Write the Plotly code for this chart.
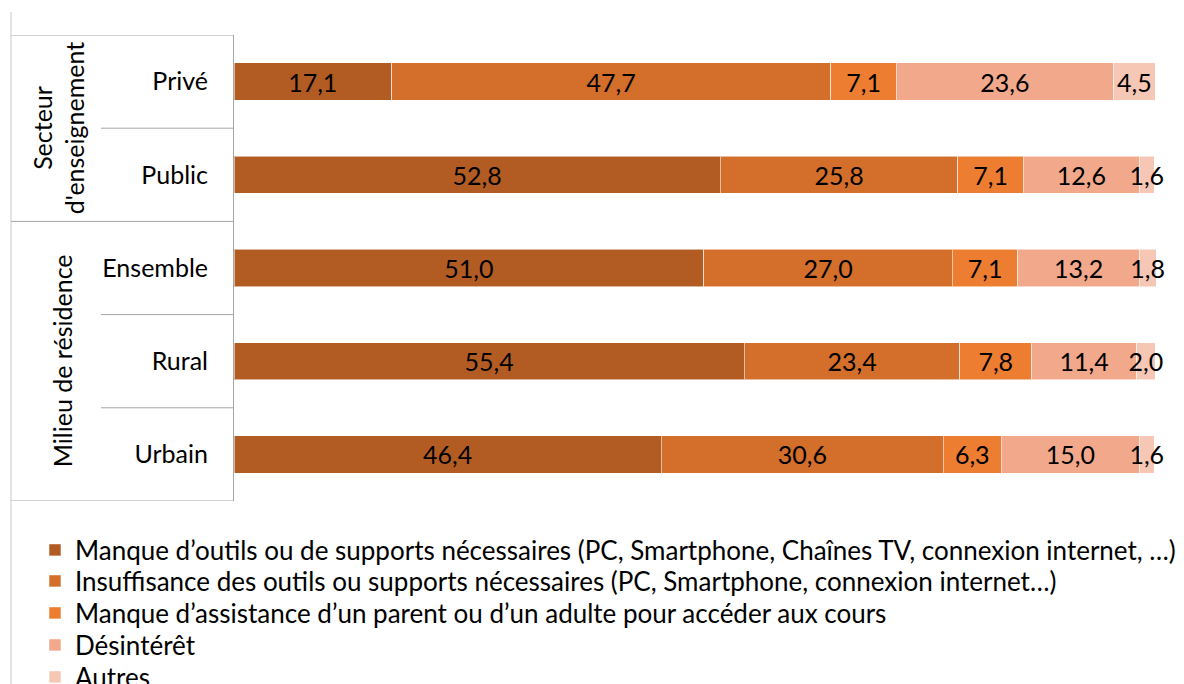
import plotly.graph_objects as go

categories = ["Privé", "Public", "Ensemble", "Rural", "Urbain"]
series_names = [
    "Manque d’outils ou de supports nécessaires (PC, Smartphone, Chaînes TV, connexion internet, …)",
    "Insuffisance des outils ou supports nécessaires (PC, Smartphone, connexion internet…)",
    "Manque d’assistance d’un parent ou d’un adulte pour accéder aux cours",
    "Désintérêt",
    "Autres",
]
manque_outils = [17.1, 52.8, 51.0, 55.4, 46.4]
insuffisance = [47.7, 25.8, 27.0, 23.4, 30.6]
manque_assistance = [7.1, 7.1, 7.1, 7.8, 6.3]
desinteret = [23.6, 12.6, 13.2, 11.4, 15.0]
autres = [4.5, 1.6, 1.8, 2.0, 1.6]
series_values = [manque_outils, insuffisance, manque_assistance, desinteret, autres]
colors = ["#B25C23", "#D36E2B", "#ED7D31", "#F1A88B", "#F6C7B5"]
group_labels = ["Secteur<br>d'enseignement", "Milieu de résidence"]

FONT = "Lato"
FS = 25
FS_LEG = 26
W, H = 1184, 684
L, R, T, B = 234, 28, 35, 183
PW, PH = W - L - R, H - T - B


def px_x(p):
    return (p - L) / PW


def px_y(p):
    return (H - B - p) / PH


legend_ids = ["legend", "legend2", "legend3", "legend4", "legend5"]
legend_centers = [550, 581, 613, 645, 677]

fig = go.Figure()
for name, vals, col, lid in zip(series_names, series_values, colors, legend_ids):
    fig.add_trace(go.Bar(
        y=categories, x=vals, name=name, orientation="h", legend=lid,
        marker=dict(color=col, line=dict(color="rgba(255,255,255,0.55)", width=1)),
        text=vals, texttemplate="%{x:.1f}", textposition="inside",
        insidetextanchor="middle", textangle=0, cliponaxis=False,
        textfont=dict(family=FONT, size=FS, color="black"),
        hoverinfo="skip",
    ))

line_col = "#A6A6A6"
shapes = []
shapes.append(dict(type="line", xref="paper", yref="paper", x0=px_x(11), x1=px_x(11),
                   y0=px_y(12), y1=px_y(684), line=dict(color="#C8C8C8", width=1)))
for b in [-0.5, 1.5, 4.5]:
    shapes.append(dict(type="line", xref="paper", yref="y", x0=px_x(11), x1=0,
                       y0=b, y1=b, line=dict(color=line_col, width=1)))
for b in [0.5, 2.5, 3.5]:
    shapes.append(dict(type="line", xref="paper", yref="y", x0=px_x(101), x1=0,
                       y0=b, y1=b, line=dict(color=line_col, width=1)))

annotations = [
    dict(text=group_labels[0], xref="paper", yref="y", x=px_x(58), y=0.5,
         textangle=-90, showarrow=False, font=dict(family=FONT, size=FS, color="black"),
         xanchor="center", yanchor="middle"),
    dict(text=group_labels[1], xref="paper", yref="y", x=px_x(62), y=3.0,
         textangle=-90, showarrow=False, font=dict(family=FONT, size=FS, color="black"),
         xanchor="center", yanchor="middle"),
]

legend_layout = {}
for lid, yc in zip(legend_ids, legend_centers):
    legend_layout[lid] = dict(
        orientation="v", x=px_x(35), y=px_y(yc), xanchor="left", yanchor="middle",
        font=dict(family=FONT, size=FS_LEG, color="black"), itemwidth=30,
        bgcolor="rgba(0,0,0,0)", borderwidth=0,
    )

fig.update_layout(
    width=W, height=H,
    margin=dict(l=L, r=R, t=T, b=B, autoexpand=False),
    barmode="stack", bargap=0.6,
    separators=", ",
    plot_bgcolor="white", paper_bgcolor="white",
    font=dict(family=FONT, size=FS, color="black"),
    uniformtext=dict(minsize=FS, mode="show"),
    xaxis=dict(range=[0, 100.1], visible=False, fixedrange=True),
    yaxis=dict(range=[4.5, -0.5], showline=True, linecolor=line_col, linewidth=1,
               ticks="", ticklabelstandoff=20, showgrid=False, fixedrange=True,
               tickfont=dict(family=FONT, size=FS, color="black")),
    showlegend=True,
    shapes=shapes,
    annotations=annotations,
    **legend_layout,
)

fig.write_html("out.html", config={"displayModeBar": False},
               post_script="document.body.style.margin='0px';")
